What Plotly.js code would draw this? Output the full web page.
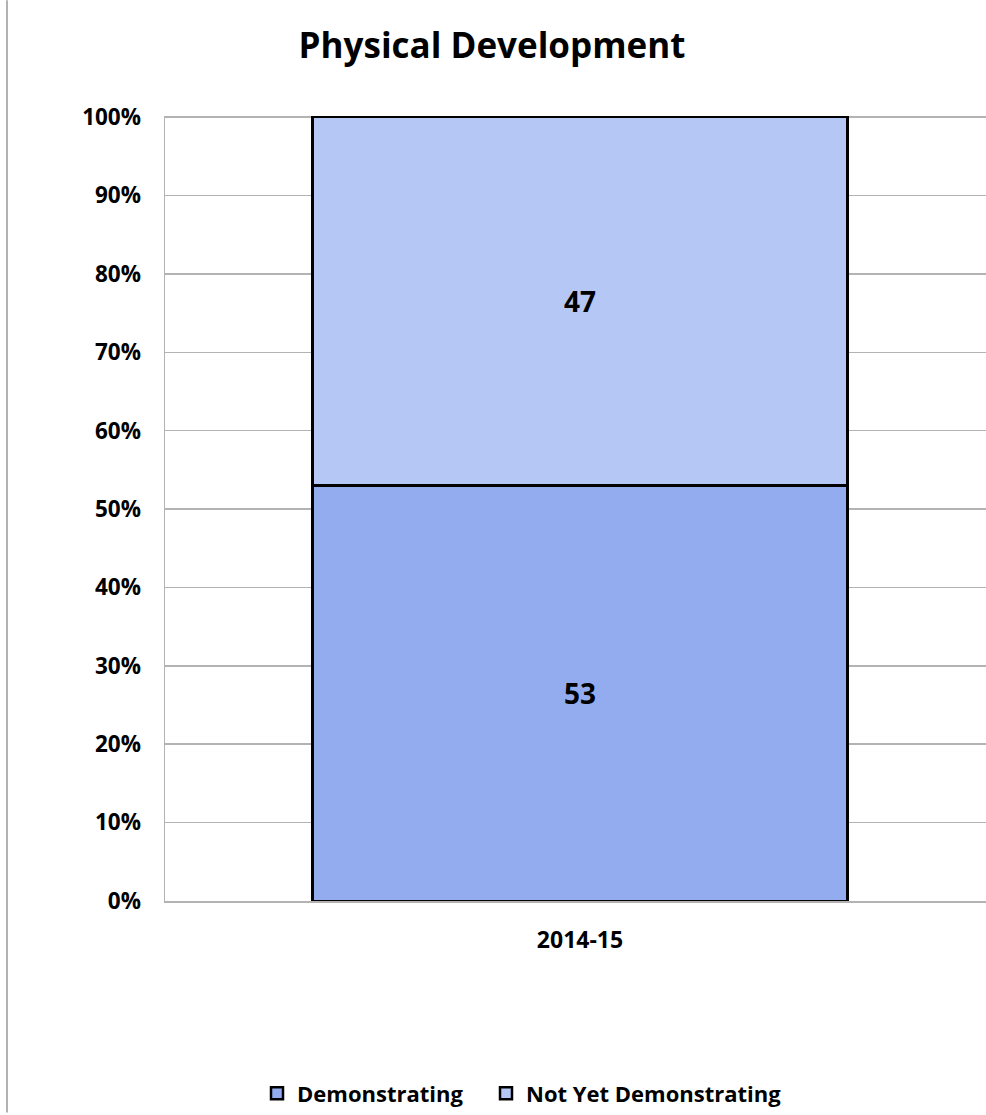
<!DOCTYPE html>
<html>
<head>
<meta charset="utf-8">
<script src="https://cdn.plot.ly/plotly-3.0.1.min.js"></script>
<style>html,body{margin:0;padding:0;background:#fff;overflow:hidden;}#chart{width:986px;height:1115px;}</style>
</head>
<body>
<div id="chart"></div>
<script>
const categories = ['2014-15'];
const demonstrating = [53];
const notYetDemonstrating = [47];
const seriesNames = ['Demonstrating', 'Not Yet Demonstrating'];
const yTickVals = [0, 10, 20, 30, 40, 50, 60, 70, 80, 90, 100];
const chartTitle = 'Physical Development';

const FONT = '"Open Sans", Lato, sans-serif';
const W = 986, H = 1115;
const L = 165, R = 0, T = 116, B = 212;
const PH = H - T - B, PW = W - L - R;

const barStyle = {line: {color: '#000000', width: 2.5}};
function makeBar(name, vals, color, legendId) {
  return {
    type: 'bar', name: name, x: categories, y: vals, legend: legendId,
    text: vals.map(String), textposition: 'inside', insidetextanchor: 'middle',
    constraintext: 'none', textangle: 0,
    textfont: {family: FONT, size: 28, weight: 700, color: '#000'},
    marker: Object.assign({color: color}, barStyle), width: 0.645
  };
}
const traces = [
  makeBar(seriesNames[0], demonstrating, '#93ACF0', 'legend'),
  makeBar(seriesNames[1], notYetDemonstrating, '#B5C7F4', 'legend2')
];

function legendAt(px) {
  return {
    orientation: 'h', xref: 'paper', x: (px - L) / PW, xanchor: 'left',
    yref: 'paper', y: (903 - 1096) / PH, yanchor: 'middle',
    font: {family: FONT, size: 22, weight: 700, color: '#000'},
    bgcolor: 'rgba(0,0,0,0)', itemwidth: 30
  };
}

const layout = {
  width: W, height: H,
  margin: {l: L, r: R, t: T, b: B, pad: 0},
  paper_bgcolor: '#fff', plot_bgcolor: '#fff',
  barmode: 'stack',
  showlegend: true,
  title: {
    text: chartTitle, xref: 'container', x: 492 / W, xanchor: 'center',
    yref: 'container', y: 1 - 46 / H, yanchor: 'middle',
    font: {family: FONT, size: 35, weight: 700, color: '#000'}
  },
  xaxis: {
    type: 'category', range: [-0.5003, 0.4894],
    showgrid: false, zeroline: false, showline: true, linecolor: '#b3b3b3', linewidth: 1.5,
    ticks: '', ticklabelstandoff: 18,
    tickfont: {family: FONT, size: 23, weight: 700, color: '#000'}
  },
  yaxis: {
    range: [0, 100.15], tickvals: yTickVals, ticktext: yTickVals.map(v => v + '%'),
    showgrid: true, gridcolor: '#b3b3b3', gridwidth: 1.5,
    zeroline: false, showline: true, linecolor: '#b3b3b3', linewidth: 1.5,
    ticks: '', ticklabelstandoff: 18,
    tickfont: {family: FONT, size: 22.5, weight: 700, color: '#000'}
  },
  legend: legendAt(257),
  legend2: legendAt(486),
  shapes: [
    {type: 'line', xref: 'paper', yref: 'paper',
     x0: (7 - L) / PW, x1: (7 - L) / PW,
     y0: (903 - 0) / PH, y1: (903 - H) / PH,
     line: {color: '#999999', width: 1.5}}
  ]
};

Plotly.newPlot('chart', traces, layout, {displayModeBar: false, staticPlot: true});
</script>
</body>
</html>
